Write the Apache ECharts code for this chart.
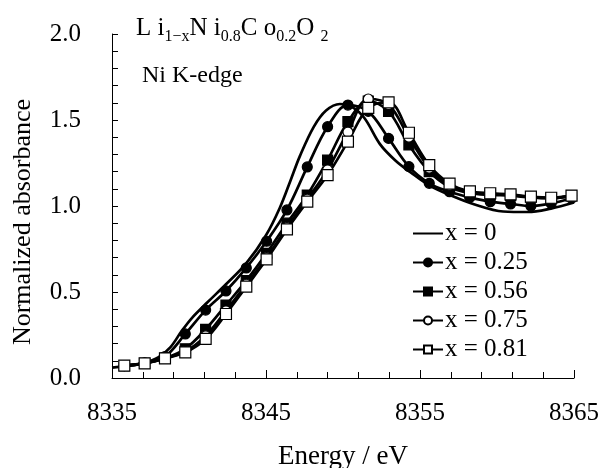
<!DOCTYPE html>
<html>
<head>
<meta charset="utf-8">
<script src="https://cdn.jsdelivr.net/npm/echarts@6/dist/echarts.min.js"></script>
<style>html,body{margin:0;padding:0;background:#fff;}#c{width:606px;height:468px;}</style>
</head>
<body>
<div id="c"></div>
<script>
// Energy grid of the marker points (eV)
var energyMarked = [8335.8, 8337.12, 8338.44, 8339.76, 8341.08, 8342.40, 8343.72, 8345.04, 8346.36, 8347.68, 8349.00, 8350.32, 8351.64, 8352.96, 8354.28, 8355.60, 8356.92, 8358.24, 8359.56, 8360.88, 8362.20, 8363.52, 8364.84];
// x = 0 (line only)
var energyX0 = [8335.0, 8336.0, 8337.0, 8338.0, 8338.8, 8339.5, 8340.2, 8341.2, 8342.4, 8343.7, 8345.0, 8345.9, 8346.6, 8347.2, 8348.1, 8348.9, 8349.8, 8350.6, 8351.4, 8352.4, 8353.4, 8354.4, 8355.6, 8356.9, 8358.5, 8360.4, 8362.0, 8363.5, 8365.0];
var absX0 = [0.06, 0.07, 0.085, 0.12, 0.18, 0.27, 0.35, 0.44, 0.545, 0.665, 0.83, 0.99, 1.15, 1.29, 1.46, 1.555, 1.593, 1.575, 1.51, 1.36, 1.265, 1.195, 1.12, 1.065, 1.01, 0.968, 0.965, 0.985, 1.02];
var absX025 = [0.072, 0.088, 0.125, 0.256, 0.395, 0.506, 0.640, 0.795, 0.977, 1.227, 1.461, 1.587, 1.55, 1.393, 1.229, 1.132, 1.083, 1.05, 1.025, 1.012, 1.0, 1.015, 1.045];
var absX056 = [0.072, 0.085, 0.115, 0.170, 0.283, 0.424, 0.566, 0.725, 0.90, 1.064, 1.267, 1.49, 1.61, 1.55, 1.355, 1.20, 1.11, 1.075, 1.065, 1.06, 1.05, 1.045, 1.06];
var absX075 = [0.072, 0.085, 0.114, 0.155, 0.245, 0.39, 0.545, 0.70, 0.875, 1.04, 1.21, 1.43, 1.622, 1.59, 1.40, 1.22, 1.12, 1.08, 1.07, 1.065, 1.05, 1.045, 1.06];
var absX081 = [0.072, 0.085, 0.114, 0.149, 0.227, 0.372, 0.531, 0.690, 0.864, 1.025, 1.18, 1.374, 1.571, 1.603, 1.426, 1.238, 1.13, 1.085, 1.074, 1.068, 1.054, 1.048, 1.06];
var seriesNames = ['x = 0', 'x = 0.25', 'x = 0.56', 'x = 0.75', 'x = 0.81'];
var xTicks = [8335, 8345, 8355, 8365];
var yTicks = [0.0, 0.5, 1.0, 1.5, 2.0];

function pairs(xs, ys) { return xs.map(function (x, i) { return [x, ys[i]]; }); }

var FONT = '"Liberation Serif", "DejaVu Serif", serif';
var chart = echarts.init(document.getElementById('c'), null, { renderer: 'canvas' });

function lineSeries(name, data, symbol, fill, size) {
  return {
    name: name, type: 'line', data: data, smooth: 0.35,
    symbol: symbol, symbolSize: size, showSymbol: symbol !== 'none',
    lineStyle: { color: '#000', width: 2.7 },
    itemStyle: { color: fill, borderColor: '#000', borderWidth: 1.2 },
    emphasis: { disabled: true }, animation: false, z: 2
  };
}

var legendData = seriesNames.map(function (n, i) {
  return i === 0 ? { name: n, itemStyle: { color: 'rgba(0,0,0,0)', borderColor: 'rgba(0,0,0,0)', borderWidth: 0 } } : { name: n };
});

chart.setOption({
  animation: false,
  backgroundColor: '#fff',
  grid: { left: 112, right: 32, top: 34, bottom: 90, containLabel: false, outerBoundsMode: 'none' },
  xAxis: {
    type: 'value', min: xTicks[0], max: xTicks[xTicks.length - 1], interval: 10,
    name: 'Energy / eV', nameLocation: 'middle', nameGap: 65,
    nameTextStyle: { fontFamily: FONT, fontSize: 27, color: '#000' },
    axisLine: { lineStyle: { color: '#000', width: 1 } },
    axisTick: { inside: true, length: 8, lineStyle: { color: '#000' } },
    minorTick: { show: true, splitNumber: 5, length: 6, lineStyle: { color: '#000' } },
    splitLine: { show: false },
    axisLabel: { fontFamily: FONT, fontSize: 25, color: '#000', margin: 23,
      formatter: function (v) { return String(v); } }
  },
  yAxis: {
    type: 'value', min: yTicks[0], max: yTicks[yTicks.length - 1], interval: 0.5,
    name: 'Normalized absorbance', nameLocation: 'middle', nameGap: 76,
    nameTextStyle: { fontFamily: FONT, fontSize: 26, color: '#000', padding: [0, 32, 0, 0] },
    axisLine: { show: true, lineStyle: { color: '#000', width: 1 } },
    axisTick: { show: true, inside: true, length: 6, lineStyle: { color: '#000' } },
    minorTick: { show: true, splitNumber: 5, length: 6, lineStyle: { color: '#000' } },
    splitLine: { show: false },
    axisLabel: { fontFamily: FONT, fontSize: 25, color: '#000', margin: 31,
      formatter: function (v) { return v.toFixed(1); } }
  },
  legend: {
    orient: 'vertical', left: 407, top: 216, itemWidth: 30, itemHeight: 10, itemGap: 4,
    data: legendData,
    textStyle: { fontFamily: FONT, fontSize: 25, color: '#000', padding: [0, 0, 0, -3] }
  },
  graphic: [
    { type: 'text', left: 136, top: 16, silent: true,
      style: { text: '{m|L i}{s|1−x}{m|N i}{s|0.8}{m|C o}{s|0.2}{m|O }{s|2}',
        rich: {
          m: { fontFamily: FONT, fontSize: 25, lineHeight: 32, verticalAlign: 'middle', fill: '#000' },
          s: { fontFamily: FONT, fontSize: 16, lineHeight: 16, verticalAlign: 'bottom', fill: '#000' }
        } } },
    { type: 'text', left: 142, top: 64, silent: true,
      style: { text: 'Ni K-edge', fontFamily: FONT, fontSize: 24, fill: '#000' } }
  ],
  series: [
    lineSeries(seriesNames[0], pairs(energyX0, absX0), 'none', '#000', 0),
    lineSeries(seriesNames[1], pairs(energyMarked, absX025), 'circle', '#000', 10),
    lineSeries(seriesNames[2], pairs(energyMarked, absX056), 'rect', '#000', 10),
    lineSeries(seriesNames[3], pairs(energyMarked, absX075), 'circle', '#fff', 10),
    lineSeries(seriesNames[4], pairs(energyMarked, absX081), 'rect', '#fff', 11)
  ]
});
</script>
</body>
</html>
